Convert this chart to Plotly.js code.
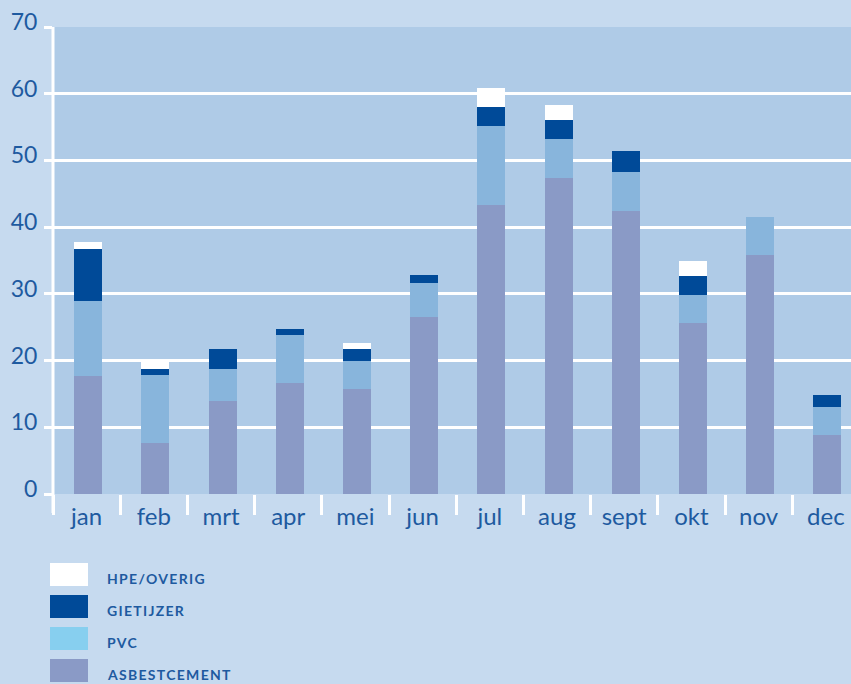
<!DOCTYPE html>
<html>
<head>
<meta charset="utf-8">
<script src="https://cdn.plot.ly/plotly-3.0.1.min.js"></script>
<style>html,body{margin:0;padding:0;background:#C6DAEF;}#chart{width:851px;height:684px;}</style>
</head>
<body>
<div id="chart"></div>
<script>
const months = ["jan","feb","mrt","apr","mei","jun","jul","aug","sept","okt","nov","dec"];
const asbestcement = [17.7, 7.7, 13.9, 16.7, 15.7, 26.6, 43.3, 47.4, 42.4, 25.7, 35.8, 8.8];
const pvc          = [11.2, 10.2, 4.8, 7.1, 4.2, 5.1, 11.9, 5.8, 5.9, 4.1, 5.7, 4.2];
const gietijzer    = [7.8, 0.9, 3.1, 0.9, 1.8, 1.1, 2.8, 2.9, 3.1, 2.9, 0, 1.9];
const hpeOverig    = [1.0, 1.1, 0, 0, 1.0, 0, 2.8, 2.2, 0, 2.2, 0, 0];
const yTicks = [0, 10, 20, 30, 40, 50, 60, 70];
const legendLabels = ["HPE/OVERIG", "GIETIJZER", "PVC", "ASBESTCEMENT"];
const legendColors = ["#FFFFFF", "#004A98", "#87CFEF", "#8A9AC6"];

const textColor = "#1E5AA0";
const font = "Lato, 'Open Sans', sans-serif";

function bar(name, vals, color) {
  return {type: "bar", name: name, x: months, y: vals, width: 0.417, offset: -0.185,
          marker: {color: color, line: {width: 0}}, showlegend: false, hoverinfo: "y"};
}
const data = [
  bar("ASBESTCEMENT", asbestcement, "#8A9AC6"),
  bar("PVC", pvc, "#88B5DC"),
  bar("GIETIJZER", gietijzer, "#004A98"),
  bar("HPE/OVERIG", hpeOverig, "#FFFFFF")
];

const shapes = [];
const annotations = [];
const plotTop = 27, plotBottom = 494;
function py(p) { return (plotBottom - p) / (plotBottom - plotTop); }
const l0 = 53, pw = 798;
function px(p) { return (p - l0) / pw; }
legendLabels.forEach((lab, i) => {
  const top = 563 + i * 32;
  shapes.push({type: "rect", xref: "paper", yref: "paper",
    x0: px(50), x1: px(88), y0: py(top + 23), y1: py(top),
    fillcolor: legendColors[i], line: {width: 0}, layer: "above"});
  annotations.push({xref: "paper", yref: "paper", x: px(105), y: py(top + 15),
    xanchor: "left", yanchor: "middle", showarrow: false,
    text: '<span style="letter-spacing:1.3px">' + lab + '</span>',
    font: {family: font, size: 14, color: textColor, weight: 700}});
});

const layout = {
  width: 851, height: 684,
  margin: {l: 53, r: 0, t: 27, b: 190},
  paper_bgcolor: "#C6DAEF",
  plot_bgcolor: "#AFCBE7",
  barmode: "stack",
  showlegend: false,
  xaxis: {
    type: "category", range: [-0.5, 11.375],
    tickson: "boundaries", ticks: "outside", ticklen: 20, tickwidth: 3, tickcolor: "#FFFFFF",
    showgrid: false, zeroline: false, showline: false,
    tickfont: {family: font, size: 24, color: textColor},
    ticklabelstandoff: 6,
    fixedrange: true
  },
  yaxis: {
    range: [0, 70], tickvals: yTicks, ticktext: yTicks.map(String),
    ticks: "outside", ticklen: 8, tickwidth: 3, tickcolor: "#FFFFFF",
    showgrid: true, gridcolor: "#FFFFFF", gridwidth: 3,
    zeroline: false, showline: false,
    tickfont: {family: font, size: 23, color: textColor},
    ticklabelstandoff: 2,
    ticklabelshift: -5,
    fixedrange: true
  },
  shapes: shapes.concat([
    {type: "line", xref: "paper", yref: "paper", x0: 0, x1: 0, y0: py(513), y1: 1,
     line: {color: "#FFFFFF", width: 3}, layer: "above"}
  ]),
  annotations: annotations
};

Plotly.newPlot("chart", data, layout, {displayModeBar: false, staticPlot: true});
</script>
</body>
</html>
